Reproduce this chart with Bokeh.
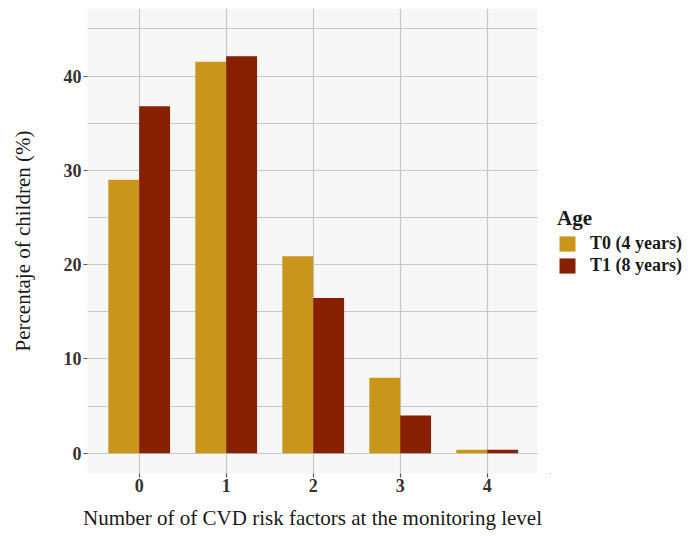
from bokeh.plotting import figure
from bokeh.layouts import row
from bokeh.models import (ColumnDataSource, Range1d, FixedTicker, Legend, LegendItem)
from bokeh.transform import dodge
from bokeh.embed import file_html
from bokeh.resources import INLINE

# ---- data ----
categories = [0, 1, 2, 3, 4]
tick_labels = ["0", "1", "2", "3", "4"]
t0_values = [29.0, 41.5, 20.9, 8.0, 0.36]
t1_values = [36.8, 42.1, 16.45, 4.0, 0.36]
series_names = ["T0 (4 years)", "T1 (8 years)"]
y_ticks = [0, 10, 20, 30, 40]
y_minor = [5, 15, 25, 35, 45]

colors = ["#C9961B", "#872000"]
FONT = "Liberation Serif"
H = 533

src = ColumnDataSource(dict(x=categories, t0=t0_values, t1=t1_values))

p = figure(width=550, height=H, output_backend="svg", toolbar_location=None,
           x_range=Range1d(-0.594, 4.578), y_range=Range1d(-2.15, 47.16),
           min_border_left=87, min_border_right=13, min_border_top=8,
           min_border_bottom=60)
p.background_fill_color = "#F7F7F7"
p.border_fill_color = "white"
p.outline_line_color = None

bw = 0.355
r0 = p.vbar(x=dodge("x", -bw / 2, range=p.x_range), top="t0", width=bw, bottom=0,
            source=src, fill_color=colors[0], line_color=None)
r1 = p.vbar(x=dodge("x", bw / 2, range=p.x_range), top="t1", width=bw, bottom=0,
            source=src, fill_color=colors[1], line_color=None)

# grids
p.xgrid.ticker = FixedTicker(ticks=categories)
p.xgrid.grid_line_color = "#C8C8C8"
p.xgrid.grid_line_width = 1.2
p.ygrid.ticker = FixedTicker(ticks=y_ticks, minor_ticks=y_minor)
p.ygrid.grid_line_color = "#C8C8C8"
p.ygrid.grid_line_width = 1.2
p.ygrid.minor_grid_line_color = "#C8C8C8"
p.ygrid.minor_grid_line_width = 1.2
p.grid.level = "image"

# axes
p.xaxis.ticker = FixedTicker(ticks=categories)
p.xaxis.major_label_overrides = {c: l for c, l in zip(categories, tick_labels)}
p.yaxis.ticker = FixedTicker(ticks=y_ticks, minor_ticks=[])
for ax in (p.xaxis[0], p.yaxis[0]):
    ax.axis_line_color = None
    ax.major_tick_line_color = "#555555"
    ax.major_tick_line_width = 1.2
    ax.major_tick_out = 4
    ax.major_tick_in = 0
    ax.minor_tick_line_color = None
    ax.major_label_text_font = FONT
    ax.major_label_text_font_style = "bold"
    ax.major_label_text_font_size = "18px"
    ax.major_label_text_color = "#333333"
    ax.axis_label_text_font = FONT
    ax.axis_label_text_font_style = "normal"
    ax.axis_label_text_font_size = "21px"
    ax.axis_label_text_color = "#1A1A1A"

p.xaxis.axis_label = "Number of of CVD risk factors at the monitoring level"
p.xaxis.major_label_standoff = 1
p.xaxis.axis_label_standoff = 11
p.yaxis.axis_label = "Percentaje of children (%)"
p.yaxis.major_label_standoff = 2
p.yaxis.axis_label_standoff = 26

# ---- legend panel (separate figure to the right of the plot) ----
lf = figure(width=137, height=H, output_backend="svg", toolbar_location=None,
            x_range=Range1d(100, 101), y_range=Range1d(100, 101),
            min_border_left=0, min_border_right=0, min_border_top=0,
            min_border_bottom=0)
lf.axis.visible = False
lf.grid.visible = False
lf.outline_line_color = None
lf.background_fill_color = "white"
# legend-only renderers (same data, drawn outside the empty view)
d0 = lf.vbar(x="x", top="t0", width=bw, source=src,
             fill_color=colors[0], line_color=None)
d1 = lf.vbar(x="x", top="t1", width=bw, source=src,
             fill_color=colors[1], line_color=None)

legend = Legend(items=[LegendItem(label=series_names[0], renderers=[d0]),
                       LegendItem(label=series_names[1], renderers=[d1])],
                location=(7, 197), title="Age")
legend.title_text_font = FONT
legend.title_text_font_style = "bold"
legend.title_text_font_size = "21px"
legend.title_text_color = "#1A1A1A"
legend.title_standoff = 2
legend.label_text_font = FONT
legend.label_text_font_style = "bold"
legend.label_text_font_size = "18px"
legend.label_text_color = "#1A1A1A"
legend.label_standoff = 13
legend.glyph_width = 20
legend.glyph_height = 19
legend.label_height = 19
legend.spacing = 1
legend.padding = 0
legend.margin = 0
legend.border_line_color = None
legend.background_fill_alpha = 0
lf.add_layout(legend, "center")

layout = row(p, lf)
open("out.html", "w").write(file_html(layout, INLINE))
